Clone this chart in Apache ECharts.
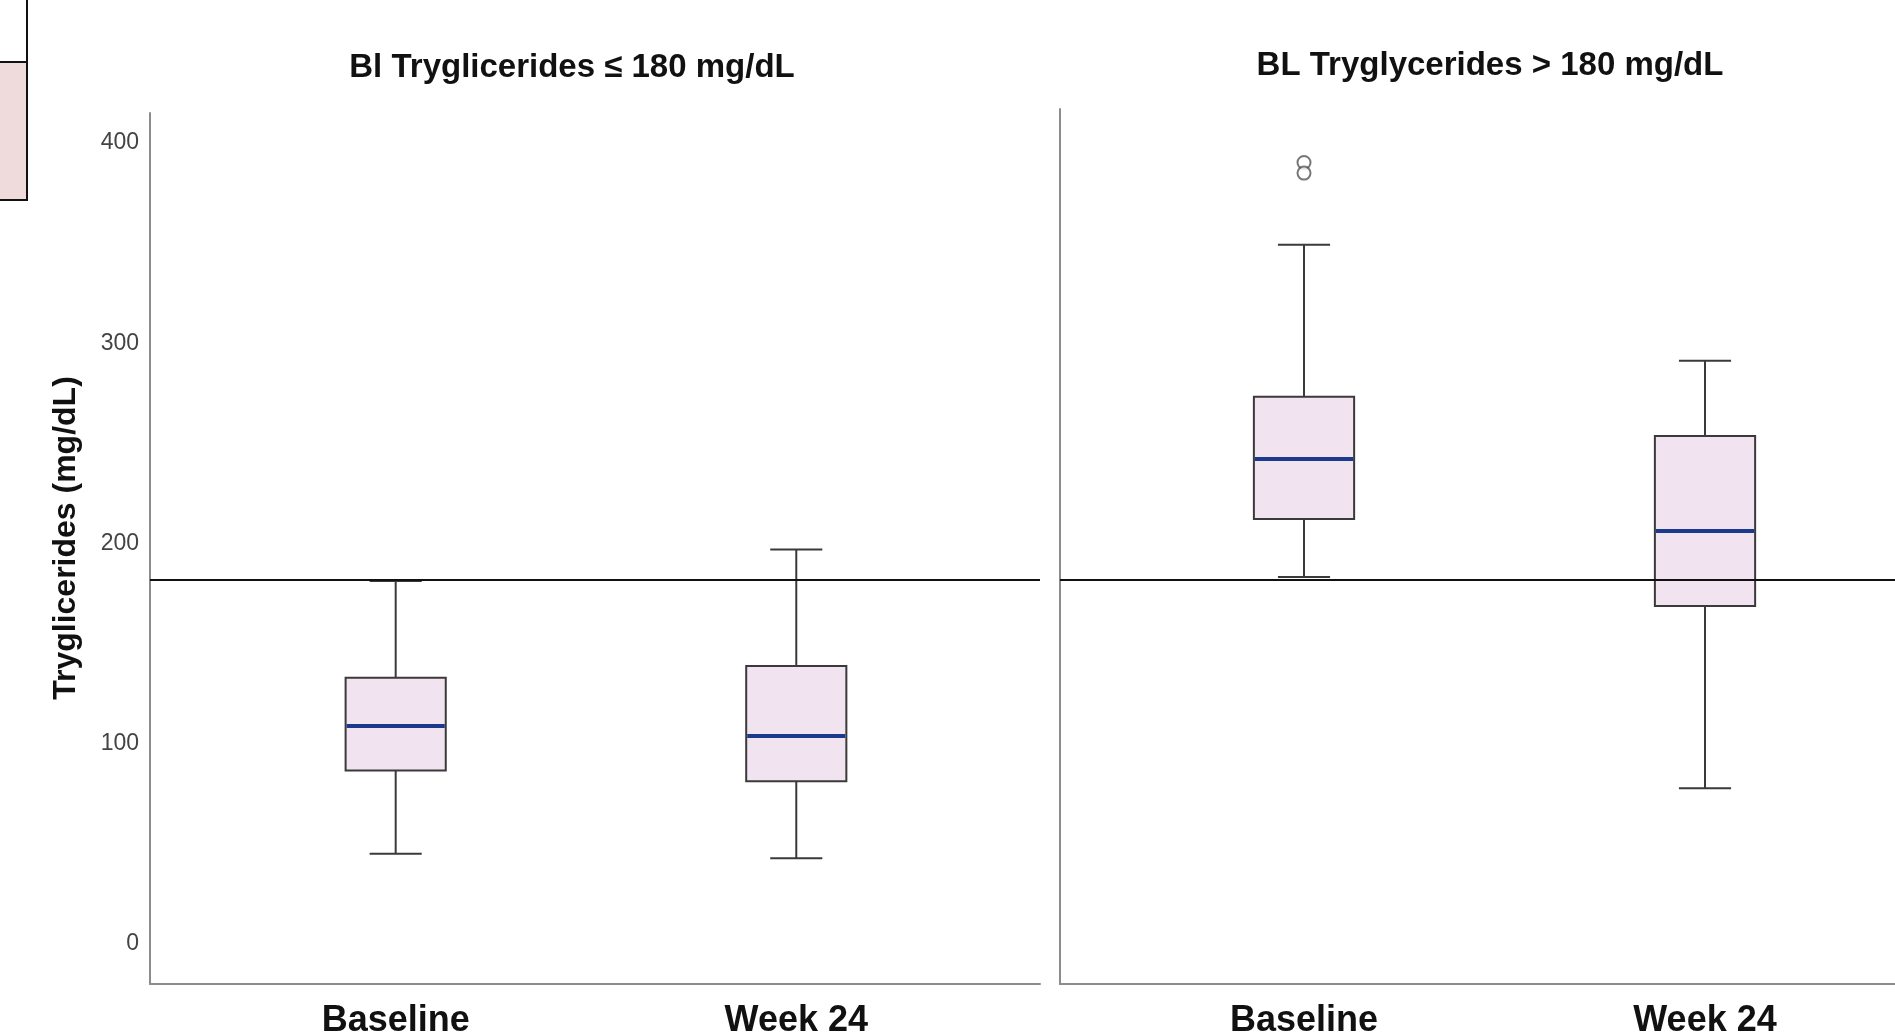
<!DOCTYPE html>
<html>
<head>
<meta charset="utf-8">
<script src="https://cdn.jsdelivr.net/npm/echarts@6/dist/echarts.min.js"></script>
<style>
html,body{margin:0;padding:0;background:#fff;}
#chart{width:1895px;height:1033px;}
</style>
</head>
<body>
<div id="chart"></div>
<script>
// ---- data ----
const categories = ['Baseline', 'Week 24'];
const panelTitles = ['Bl Tryglicerides \u2264 180 mg/dL', 'BL Tryglycerides > 180 mg/dL'];
const yTickValues = [0, 100, 200, 300, 400];
const yAxisTitle = 'Tryglicerides (mg/dL)';
const thresholdValue = 182;
// [categoryIndex, min, Q1, median, Q3, max]
const lowGroupBoxes = [
  [0, 45.0, 86.6, 108.8, 133.0, 181.3],
  [1, 42.8, 81.2, 103.8, 138.8, 197.0]
];
const highGroupBoxes = [
  [0, 183.3, 212.2, 242.2, 273.3, 349.2],
  [1, 77.8, 168.8, 206.2, 253.7, 291.3]
];
// [categoryIndex, value]
const highGroupOutliers = [
  [0, 390.3],
  [0, 385.0]
];

const boxFill = '#f2e3f1';
const boxStroke = '#3a3a3a';
const medianColor = '#1c3a8c';
const axisColor = '#8c8c8c';
const fontFam = 'Liberation Sans, Arial, sans-serif';

function renderBox(params, api) {
  const x = api.value(0);
  const pt = k => api.coord([x, api.value(k)]);
  const pMin = pt(1), pQ1 = pt(2), pMed = pt(3), pQ3 = pt(4), pMax = pt(5);
  const cx = pMed[0];
  const unit = api.size([1, 0])[0];
  const half = unit * 0.125;
  const capHalf = unit * 0.065;
  const ls = { stroke: boxStroke, lineWidth: 2 };
  return {
    type: 'group',
    children: [
      { type: 'line', shape: { x1: cx, y1: pQ3[1], x2: cx, y2: pMax[1] }, style: ls },
      { type: 'line', shape: { x1: cx, y1: pQ1[1], x2: cx, y2: pMin[1] }, style: ls },
      { type: 'line', shape: { x1: cx - capHalf, y1: pMax[1], x2: cx + capHalf, y2: pMax[1] }, style: ls },
      { type: 'line', shape: { x1: cx - capHalf, y1: pMin[1], x2: cx + capHalf, y2: pMin[1] }, style: ls },
      { type: 'rect', shape: { x: cx - half, y: pQ3[1], width: 2 * half, height: pQ1[1] - pQ3[1] },
        style: { fill: boxFill, stroke: boxStroke, lineWidth: 2 } },
      { type: 'line', shape: { x1: cx - half + 1, y1: pMed[1], x2: cx + half - 1, y2: pMed[1] },
        style: { stroke: medianColor, lineWidth: 4 } }
    ]
  };
}

const thresholdMark = {
  silent: true,
  symbol: ['none', 'none'],
  label: { show: false },
  lineStyle: { color: '#111', width: 2, type: 'solid' },
  data: [{ yAxis: thresholdValue }]
};

const xAxisCommon = {
  type: 'value',
  axisLine: { show: true, onZero: false, lineStyle: { color: axisColor, width: 2 } },
  axisTick: { show: false },
  splitLine: { show: false },
  axisLabel: {
    customValues: [0, 1],
    formatter: v => categories[Math.round(v)] || '',
    fontFamily: fontFam,
    fontWeight: 'bold',
    fontSize: 36,
    color: '#111',
    margin: 19
  }
};

const option = {
  animation: false,
  backgroundColor: '#fff',
  grid: [
    { left: 150, top: 113, width: 890, bottom: 49, outerBoundsMode: 'none', containLabel: false },
    { left: 1060, top: 109, right: 0, bottom: 49, outerBoundsMode: 'none', containLabel: false }
  ],
  xAxis: [
    Object.assign({}, xAxisCommon, { gridIndex: 0, min: -0.6133, max: 1.6084 }),
    Object.assign({}, xAxisCommon, { gridIndex: 1, min: -0.6085, max: 1.4738 })
  ],
  yAxis: [
    {
      type: 'value', gridIndex: 0, min: -20, max: 415,
      axisLine: { show: true, onZero: false, lineStyle: { color: axisColor, width: 2 } },
      axisTick: { show: false },
      splitLine: { show: false },
      axisLabel: {
        customValues: yTickValues,
        fontFamily: fontFam,
        fontSize: 23,
        color: '#444',
        margin: 11
      }
    },
    {
      type: 'value', gridIndex: 1, min: -20, max: 417,
      axisLine: { show: true, onZero: false, lineStyle: { color: axisColor, width: 2 } },
      axisTick: { show: false },
      splitLine: { show: false },
      axisLabel: { show: false }
    }
  ],
  series: [
    {
      type: 'custom', xAxisIndex: 0, yAxisIndex: 0,
      renderItem: renderBox,
      encode: { x: 0, y: [1, 2, 3, 4, 5] },
      data: lowGroupBoxes,
      markLine: thresholdMark
    },
    {
      type: 'custom', xAxisIndex: 1, yAxisIndex: 1,
      renderItem: renderBox,
      encode: { x: 0, y: [1, 2, 3, 4, 5] },
      data: highGroupBoxes,
      markLine: thresholdMark
    },
    {
      type: 'scatter', xAxisIndex: 1, yAxisIndex: 1,
      symbol: 'emptyCircle', symbolSize: 13,
      itemStyle: { color: '#555', borderColor: '#555', borderWidth: 2 },
      data: highGroupOutliers
    }
  ],
  graphic: [
    { type: 'rect', shape: { x: -3, y: -3, width: 30, height: 65 },
      style: { fill: '#fff', stroke: '#111', lineWidth: 2 }, silent: true },
    { type: 'rect', shape: { x: -3, y: 62, width: 30, height: 138 },
      style: { fill: '#efdbdc', stroke: '#111', lineWidth: 2 }, silent: true },
    { type: 'text', x: 572, y: 68,
      style: { text: panelTitles[0], fontFamily: fontFam, fontWeight: 'bold',
               fontSize: 33, fill: '#111', textAlign: 'center', textVerticalAlign: 'middle' } },
    { type: 'text', x: 1490, y: 66,
      style: { text: panelTitles[1], fontFamily: fontFam, fontWeight: 'bold',
               fontSize: 33, fill: '#111', textAlign: 'center', textVerticalAlign: 'middle' } },
    { type: 'text', x: 66, y: 538, rotation: Math.PI / 2,
      style: { text: yAxisTitle, fontFamily: fontFam, fontWeight: 'bold',
               fontSize: 32, fill: '#111', textAlign: 'center', textVerticalAlign: 'middle' } }
  ]
};

const chart = echarts.init(document.getElementById('chart'), null, { renderer: 'canvas' });
chart.setOption(option);
</script>
</body>
</html>
